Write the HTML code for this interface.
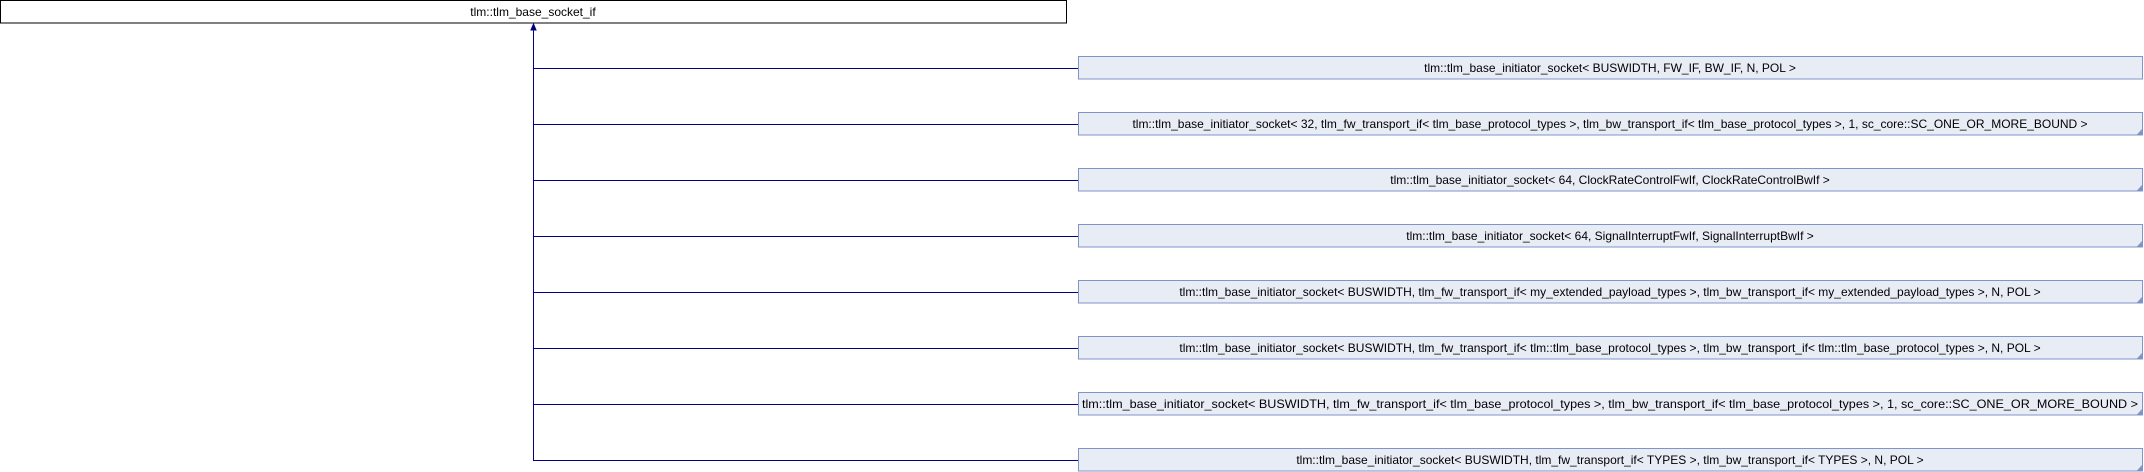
<!DOCTYPE html>
<html><head><meta charset="utf-8"><style>
html,body{margin:0;padding:0;background:#fff;}
svg{display:block;}
text{font-family:"Liberation Sans",Arial,sans-serif;font-size:12px;fill:#000;}
</style></head><body>
<svg width="2144" height="472" viewBox="0 0 2144 472" xmlns="http://www.w3.org/2000/svg">
<rect x="0.5" y="0.5" width="1066" height="22.5" fill="#fff" stroke="#000" stroke-width="1"/>
<text x="533" y="16" text-anchor="middle">tlm::tlm_base_socket_if</text>
<line x1="533.5" y1="29" x2="533.5" y2="460" stroke="#000080" stroke-width="1"/>
<polygon points="533.5,24 531,30 536,30" fill="#000080" stroke="#000080"/>
<g stroke="#000080" stroke-width="1">
<line x1="533" y1="68.5" x2="1078" y2="68.5"/>
<line x1="533" y1="124.5" x2="1078" y2="124.5"/>
<line x1="533" y1="180.5" x2="1078" y2="180.5"/>
<line x1="533" y1="236.5" x2="1078" y2="236.5"/>
<line x1="533" y1="292.5" x2="1078" y2="292.5"/>
<line x1="533" y1="348.5" x2="1078" y2="348.5"/>
<line x1="533" y1="404.5" x2="1078" y2="404.5"/>
<line x1="533" y1="460.5" x2="1078" y2="460.5"/>
</g>
<g fill="#e8ecf5" stroke="#7f95c8" stroke-width="1">
<rect x="1078.5" y="56.5" width="1064" height="22.5"/>
<rect x="1078.5" y="112.5" width="1064" height="22.5"/>
<rect x="1078.5" y="168.5" width="1064" height="22.5"/>
<rect x="1078.5" y="224.5" width="1064" height="22.5"/>
<rect x="1078.5" y="280.5" width="1064" height="22.5"/>
<rect x="1078.5" y="336.5" width="1064" height="22.5"/>
<rect x="1078.5" y="392.5" width="1064" height="22.5"/>
<rect x="1078.5" y="448.5" width="1064" height="22.5"/>
</g>
<g fill="#7f95c8">
<polygon points="2143,128 2143,135.5 2136,135.5"/>
<polygon points="2143,184 2143,191.5 2136,191.5"/>
<polygon points="2143,240 2143,247.5 2136,247.5"/>
<polygon points="2143,296 2143,303.5 2136,303.5"/>
<polygon points="2143,352 2143,359.5 2136,359.5"/>
<polygon points="2143,408 2143,415.5 2136,415.5"/>
<polygon points="2143,464 2143,471.5 2136,471.5"/>
</g>
<g text-anchor="middle">
<text x="1610" y="72">tlm::tlm_base_initiator_socket&lt; BUSWIDTH, FW_IF, BW_IF, N, POL &gt;</text>
<text x="1610" y="128">tlm::tlm_base_initiator_socket&lt; 32, tlm_fw_transport_if&lt; tlm_base_protocol_types &gt;, tlm_bw_transport_if&lt; tlm_base_protocol_types &gt;, 1, sc_core::SC_ONE_OR_MORE_BOUND &gt;</text>
<text x="1610" y="184">tlm::tlm_base_initiator_socket&lt; 64, ClockRateControlFwIf, ClockRateControlBwIf &gt;</text>
<text x="1610" y="240">tlm::tlm_base_initiator_socket&lt; 64, SignalInterruptFwIf, SignalInterruptBwIf &gt;</text>
<text x="1610" y="296">tlm::tlm_base_initiator_socket&lt; BUSWIDTH, tlm_fw_transport_if&lt; my_extended_payload_types &gt;, tlm_bw_transport_if&lt; my_extended_payload_types &gt;, N, POL &gt;</text>
<text x="1610" y="352">tlm::tlm_base_initiator_socket&lt; BUSWIDTH, tlm_fw_transport_if&lt; tlm::tlm_base_protocol_types &gt;, tlm_bw_transport_if&lt; tlm::tlm_base_protocol_types &gt;, N, POL &gt;</text>
<text x="1610" y="408" textLength="1056" lengthAdjust="spacingAndGlyphs">tlm::tlm_base_initiator_socket&lt; BUSWIDTH, tlm_fw_transport_if&lt; tlm_base_protocol_types &gt;, tlm_bw_transport_if&lt; tlm_base_protocol_types &gt;, 1, sc_core::SC_ONE_OR_MORE_BOUND &gt;</text>
<text x="1610" y="464">tlm::tlm_base_initiator_socket&lt; BUSWIDTH, tlm_fw_transport_if&lt; TYPES &gt;, tlm_bw_transport_if&lt; TYPES &gt;, N, POL &gt;</text>
</g>
</svg>
</body></html>
